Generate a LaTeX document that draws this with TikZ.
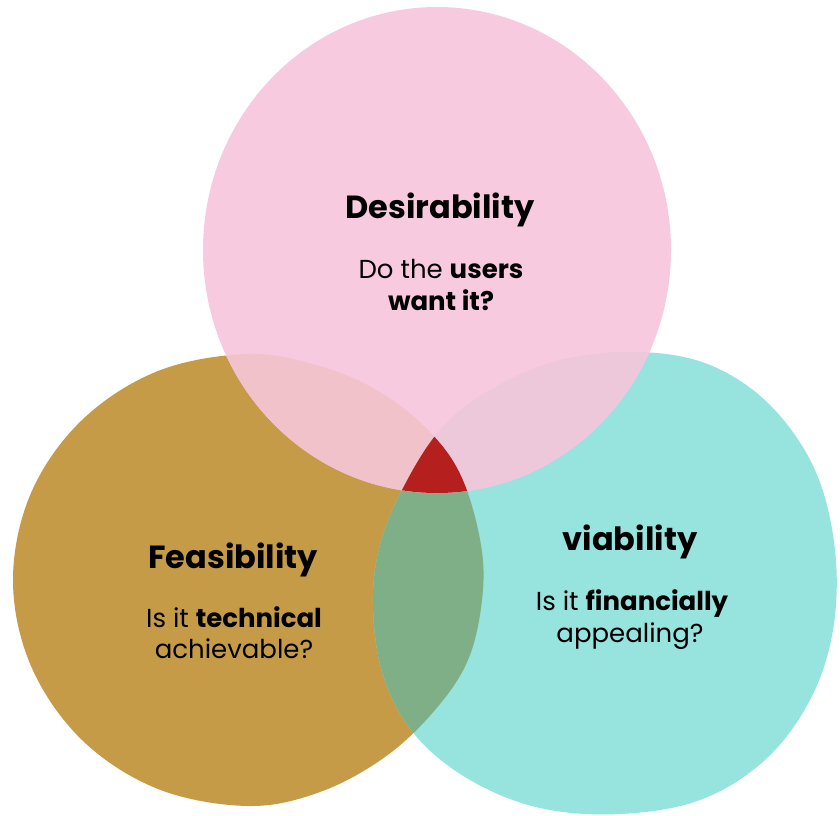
\documentclass[tikz,border=0pt]{standalone}
\usepackage{fontspec}
\setmainfont{Poppins}
\begin{document}
\begin{tikzpicture}[x=1pt,y=-1pt,
  title/.style={anchor=base,font=\fontsize{32}{38}\selectfont\bfseries,text=black,inner sep=0pt},
  sub/.style={anchor=base,font=\fontsize{26}{30}\selectfont,text=black,inner sep=0pt}]
\definecolor{cpink}{HTML}{F8CADF}
\definecolor{cgold}{HTML}{C59B48}
\definecolor{cteal}{HTML}{97E3DD}
\definecolor{cgreen}{HTML}{7EAF86}
\definecolor{cpinkgold}{HTML}{F2C2CA}
\definecolor{cpinkteal}{HTML}{EDC7DA}
\definecolor{cred}{HTML}{B5201F}
\useasboundingbox (0,0) rectangle (840,815);
\fill[white] (0,0) rectangle (840,815);
\def\goldpath{plot[smooth cycle,tension=0.6] coordinates {(248,354) (320,366) (380,392) (430,432) (462,478) (481,545) (482,600) (468,660) (435,710) (385,757) (320,792) (248,806) (158,789) (82,740) (31,666) (13,580) (31,493) (82,420) (158,371)}}
\def\tealpath{plot[smooth cycle,tension=0.6] coordinates {(640,352) (710,365) (770,405) (815,470) (835,550) (833,630) (810,700) (765,760) (700,800) (620,814) (540,808) (470,780) (415,735) (383,675) (373,605) (380,545) (403,488) (440,430) (490,390) (560,360)}}
\def\pinkpath{(437,250) ellipse [x radius=234pt, y radius=243pt]}
% base blobs
\fill[cgold] \goldpath;
\fill[cteal] \tealpath;
\begin{scope}
  \clip \goldpath;
  \fill[cgreen] \tealpath;
\end{scope}
\fill[cpink] \pinkpath;
\begin{scope}
  \clip \pinkpath;
  \fill[cpinkgold] \goldpath;
  \fill[cpinkteal] \tealpath;
  \clip \goldpath;
  \fill[cred] \tealpath;
\end{scope}
% texts
\node[title] (dtitle) at (440,218) {Desirability};
\node[sub] (dsub1) at (441,278) {Do the \textbf{users}};
\node[sub] (dsub2) at (441,310) {\textbf{want it?}};
\node[title] (ftitle) at (233,568) {Feasibility};
\node[sub] (fsub1) at (234,627) {Is it \textbf{technical}};
\node[sub] (fsub2) at (234,658) {achievable?};
\node[title] (vtitle) at (630,550) {viability};
\node[sub] (vsub1) at (632,610) {Is it \textbf{financially}};
\node[sub] (vsub2) at (630,642) {appealing?};
\end{tikzpicture}
\end{document}
